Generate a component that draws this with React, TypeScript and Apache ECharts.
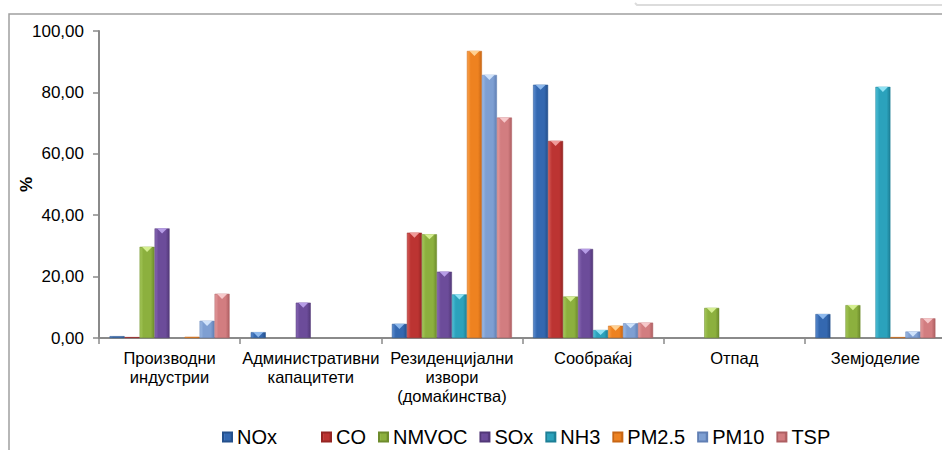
import React, { useEffect, useRef } from "react";
import * as echarts from "echarts";

const categories = [
  "Производни\nиндустрии",
  "Административни\nкапацитети",
  "Резиденцијални\nизвори\n(домаќинства)",
  "Сообраќај",
  "Отпад",
  "Земјоделие",
];
const seriesNames = ["NOx", "CO", "NMVOC", "SOx", "NH3", "PM2.5", "PM10", "TSP"];
const NOx = [0.6, 1.9, 4.6, 82.5, 0, 7.8];
const CO = [0.3, 0, 34.3, 64.2, 0, 0];
const NMVOC = [29.7, 0, 33.8, 13.5, 9.8, 10.7];
const SOx = [35.7, 11.5, 21.6, 29.0, 0, 0];
const NH3 = [0, 0, 14.2, 2.6, 0, 81.8];
const PM25 = [0.4, 0, 93.5, 4.0, 0, 0.3];
const PM10 = [5.6, 0, 85.7, 4.8, 0, 2.1];
const TSP = [14.4, 0, 71.8, 5.0, 0, 6.4];
const seriesValues = [NOx, CO, NMVOC, SOx, NH3, PM25, PM10, TSP];
const yMin = 0;
const yMax = 100;
const yStep = 20;

const palette = [
  ["#5B8CD0", "#3468B0", "#24508C", "#8DB8EC"],
  ["#D45A57", "#BC3432", "#962523", "#F09A98"],
  ["#A5C85A", "#8CB03E", "#6E8C2C", "#D4EE90"],
  ["#8868B4", "#6C4C9A", "#523878", "#B69CE6"],
  ["#4FC0D8", "#2BA2BC", "#1D7F96", "#8EE2F4"],
  ["#F9A04A", "#EE8220", "#C86614", "#FFD090"],
  ["#9CBAE4", "#7E9FD2", "#607FB4", "#CFE2FA"],
  ["#E49C9E", "#D27D80", "#AE5F62", "#F6C8CA"],
];

const FONT = "'Liberation Sans', Arial, sans-serif";

export default function App() {
  const ref = useRef<HTMLDivElement>(null);
  useEffect(() => {
    if (!ref.current) return;
    const chart = echarts.init(ref.current, undefined, { renderer: "svg" });
    const grad = (i: number) => ({
      type: "linear",
      x: 0,
      y: 0,
      x2: 1,
      y2: 0,
      colorStops: [
        { offset: 0, color: palette[i][0] },
        { offset: 0.25, color: palette[i][1] },
        { offset: 0.75, color: palette[i][1] },
        { offset: 1, color: palette[i][2] },
      ],
    });
    const bars = seriesNames.map((name, i) => ({
      type: "bar",
      name,
      data: seriesValues[i].map((v) => (v > 0 ? v : "-")),
      barGap: "0%",
      barCategoryGap: "15%",
      itemStyle: { color: grad(i), borderColor: palette[i][2], borderWidth: 0.5 },
      z: 2,
    }));
    const tris = seriesNames.map((name, i) => ({
      type: "pictorialBar",
      name,
      data: seriesValues[i].map((v) => (v >= 1.5 ? v : "-")),
      barGap: "0%",
      barCategoryGap: "15%",
      symbol: "path://M0,0L10,0L5,4Z",
      symbolSize: ["70%", 5],
      symbolPosition: "end",
      symbolOffset: [0, 0],
      itemStyle: { color: palette[i][3] },
      z: 3,
      legendHoverLink: false,
    }));
    const legendText = { fontSize: 20, color: "#000", fontFamily: FONT };
    chart.setOption({
      animation: false,
      textStyle: { fontFamily: FONT },
      grid: {
        left: 99,
        right: 0,
        top: 31,
        bottom: 112,
        containLabel: false,
        outerBoundsMode: "none",
      },
      legend: [
        {
          data: ["NOx"],
          left: 222,
          top: 427,
          padding: 0,
          icon: "rect",
          itemWidth: 9,
          itemHeight: 9,
          textStyle: legendText,
        },
        {
          data: seriesNames.slice(1),
          left: 321,
          top: 427,
          padding: 0,
          icon: "rect",
          itemWidth: 9,
          itemHeight: 9,
          itemGap: 12,
          textStyle: legendText,
        },
      ],
      xAxis: {
        type: "category",
        data: categories,
        axisLine: { lineStyle: { color: "#8a8a8a", width: 2 } },
        axisTick: { show: true, length: 6, lineStyle: { color: "#8a8a8a", width: 1.5 } },
        axisLabel: {
          interval: 0,
          fontSize: 16.5,
          lineHeight: 19,
          color: "#000",
          margin: 10,
          fontFamily: FONT,
        },
      },
      yAxis: {
        type: "value",
        min: yMin,
        max: yMax,
        interval: yStep,
        name: "%",
        nameLocation: "middle",
        nameRotate: 90,
        nameGap: 64,
        nameMoveOverlap: false,
        nameTextStyle: { fontSize: 17, fontWeight: "bold", color: "#000", fontFamily: FONT },
        axisLine: { show: true, lineStyle: { color: "#8a8a8a", width: 2 } },
        axisTick: { show: true, length: 6, lineStyle: { color: "#8a8a8a", width: 1.5 } },
        axisLabel: {
          fontSize: 17,
          color: "#000",
          margin: 15,
          fontFamily: FONT,
          formatter: (v: number) => v.toFixed(2).replace(".", ","),
        },
        splitLine: {
          lineStyle: {
            color: "#8c8c8c",
            width: 1.5,
            shadowColor: "rgba(0,0,0,0.25)",
            shadowOffsetY: 1.5,
            shadowBlur: 1,
          },
        },
      },
      graphic: [
        {
          type: "polyline",
          shape: { points: [[9, 450], [9, 14], [946, 14]] },
          style: { stroke: "#a0a0a0", lineWidth: 1.5, fill: null },
          silent: true,
        },
        {
          type: "polyline",
          shape: { points: [[635, 3], [637, 5], [946, 5]] },
          style: { stroke: "#dcdcdc", lineWidth: 2, fill: null },
          silent: true,
        },
      ],
      series: [...bars, ...tris],
    } as any);
    return () => chart.dispose();
  }, []);
  return (
    <div
      style={{
        position: "fixed",
        left: 0,
        top: 0,
        width: 942,
        height: 450,
        overflow: "hidden",
        background: "#fff",
      }}
    >
      <div ref={ref} style={{ width: 946, height: 450 }} />
    </div>
  );
}
